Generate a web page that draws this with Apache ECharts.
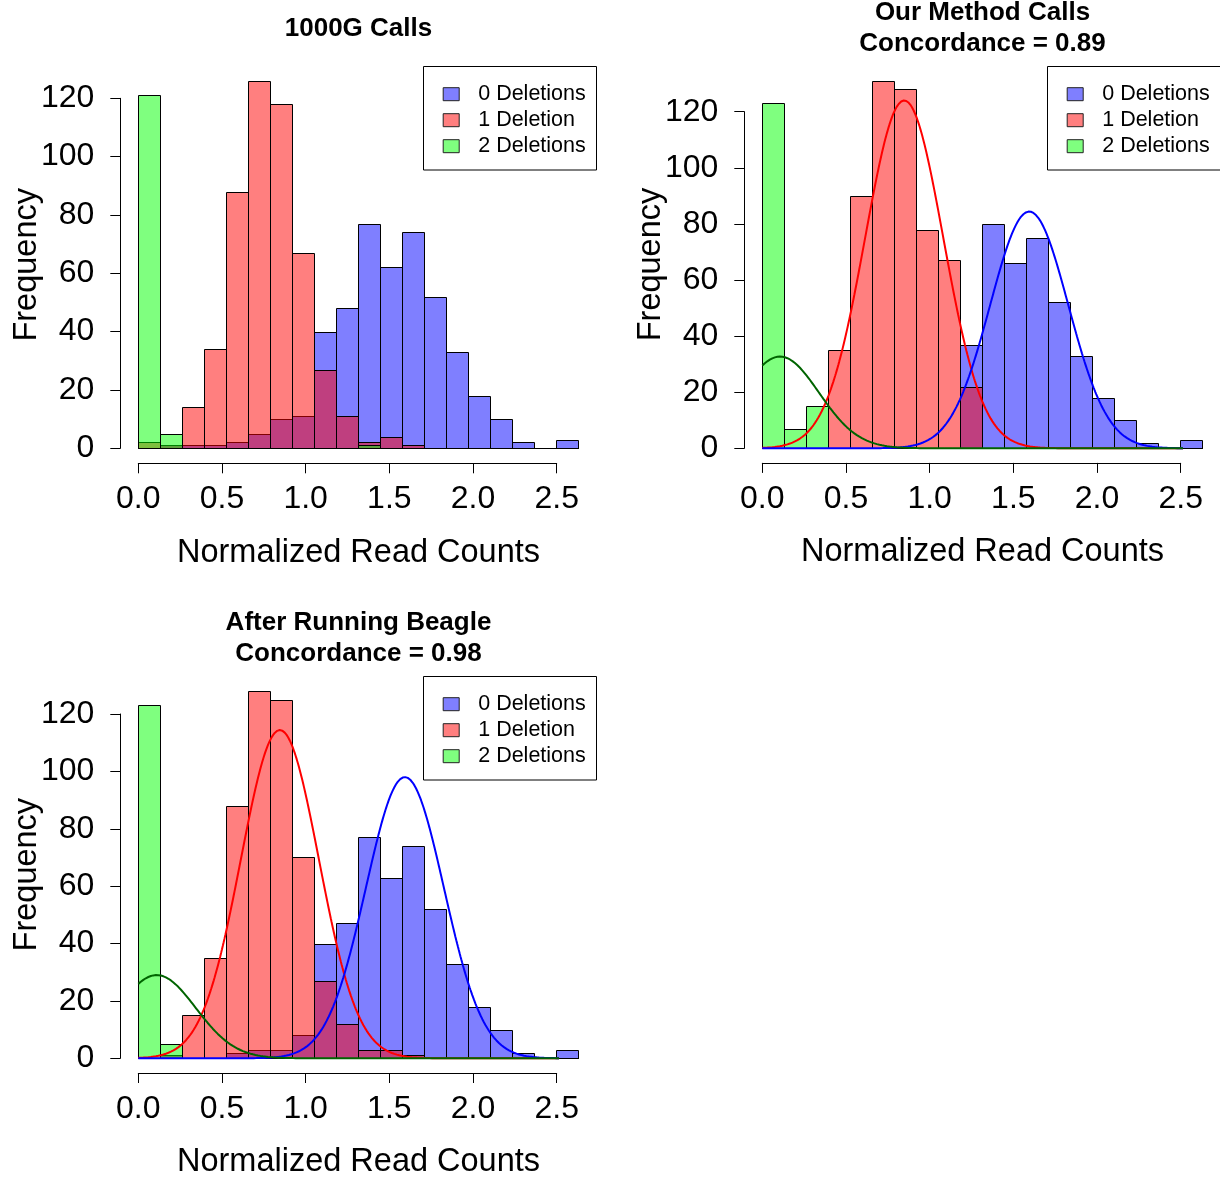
<!DOCTYPE html>
<html>
<head>
<meta charset="utf-8">
<title>Deletion genotype read-count histograms</title>
<script src="https://cdn.jsdelivr.net/npm/echarts@6/dist/echarts.min.js"></script>
<style>
  html, body { margin: 0; padding: 0; background: #ffffff; }
  #chart { width: 1220px; height: 1180px; }
</style>
</head>
<body>
<div id="chart"></div>
<script>
// ---- data -------------------------------------------------------------
// Histogram breaks: 20 equal bins starting at 0
const BIN_WIDTH = 0.1315;
const BIN_COUNT = 20;
const LEGEND_NAMES = ['0 Deletions', '1 Deletion', '2 Deletions'];
const X_AXIS_NAME = 'Normalized Read Counts';
const Y_AXIS_NAME = 'Frequency';

// Panel 1: 1000G Calls (counts per bin)
const g1000Zero = [0, 1, 1, 1, 2, 5, 10, 11, 40, 48, 77, 62, 74, 52, 33, 18, 10, 2, 0, 3];
const g1000One  = [2, 1, 14, 34, 88, 126, 118, 67, 27, 11, 2, 4, 1, 0, 0, 0, 0, 0, 0, 0];
const g1000Two  = [121, 5, 0, 0, 0, 0, 0, 0, 0, 0, 1, 0, 0, 0, 0, 0, 0, 0, 0, 0];

// Panel 2: Our Method Calls
const oursZero = [0, 0, 0, 0, 0, 0, 0, 0, 0, 37, 80, 66, 75, 52, 33, 18, 10, 2, 0, 3];
const oursOne  = [0, 0, 0, 35, 90, 131, 128, 78, 67, 22, 0, 0, 0, 0, 0, 0, 0, 0, 0, 0];
const oursTwo  = [123, 7, 15, 0, 0, 0, 0, 0, 0, 0, 0, 0, 0, 0, 0, 0, 0, 0, 0, 0];

// Panel 3: After Running Beagle
const beagleZero = [0, 1, 0, 0, 2, 3, 3, 8, 40, 47, 77, 63, 74, 52, 33, 18, 10, 2, 0, 3];
const beagleOne  = [0, 1, 15, 35, 88, 128, 125, 70, 27, 12, 3, 3, 1, 0, 0, 0, 0, 0, 0, 0];
const beagleTwo  = [123, 5, 0, 0, 0, 0, 0, 0, 0, 0, 0, 0, 0, 0, 0, 0, 0, 0, 0, 0];

// Fitted normal components (order: 0, 1, 2 deletions), shared sd
const FIT_SD = 0.233;
const oursFitMean   = [1.595, 0.848, 0.106];
const oursFitPeak   = [84.4, 124, 32.7];
const beagleFitMean = [1.593, 0.846, 0.11];
const beagleFitPeak = [98, 114.4, 29];

// ---- styling ------------------------------------------------------------
const FONT = '"Liberation Sans", Arial, Helvetica, sans-serif';
const FILLS = ['rgba(0,0,255,0.5)', 'rgba(255,0,0,0.5)', 'rgba(0,255,0,0.5)'];
const CURVE_COLORS = ['#0000ff', '#ff0000', '#006400'];

// Plot regions (x: 0..2.5, y: 0..120)
const panels = [
  { left: 138.3, top: 98.3,  width: 418.4, height: 350.0, xOff: 15,   nameShift: 17 },
  { left: 762.3, top: 111.7, width: 418.4, height: 336.6, xOff: 14.6, nameShift: 31 },
  { left: 138.3, top: 714.0, width: 418.4, height: 344.3, xOff: 14.7, nameShift: 23 }
];

const panelCounts = [
  [g1000Zero, g1000One, g1000Two],
  [oursZero, oursOne, oursTwo],
  [beagleZero, beagleOne, beagleTwo]
];
const panelFits = [
  null,
  { mean: oursFitMean, peak: oursFitPeak },
  { mean: beagleFitMean, peak: beagleFitPeak }
];

function histSeries(name, counts, color, gi) {
  return {
    type: 'custom',
    name: name,
    xAxisIndex: gi,
    yAxisIndex: gi,
    clip: false,
    silent: true,
    z: 2,
    itemStyle: { color: color, borderColor: '#000', borderWidth: 1 },
    encode: { x: [0, 1], y: 2 },
    data: counts.map((n, i) => [i * BIN_WIDTH, (i + 1) * BIN_WIDTH, n]),
    renderItem: function (params, api) {
      const a = api.coord([api.value(0), api.value(2)]);
      const b = api.coord([api.value(1), 0]);
      const x0 = Math.round(a[0]) + 0.5, x1 = Math.round(b[0]) + 0.5;
      const y0 = Math.round(a[1]) + 0.5, y1 = Math.round(b[1]) + 0.5;
      return {
        type: 'rect',
        shape: { x: x0, y: y0, width: x1 - x0, height: y1 - y0 },
        style: { fill: color, stroke: '#000', lineWidth: 1 }
      };
    }
  };
}

function curveSeries(mean, peak, color, gi) {
  const xMax = BIN_WIDTH * BIN_COUNT;
  const pts = [];
  for (let x = 0; x <= xMax + 1e-9; x += 0.005) {
    const d = (x - mean) / FIT_SD;
    pts.push([x, peak * Math.exp(-0.5 * d * d)]);
  }
  return {
    type: 'line',
    name: 'fit',
    xAxisIndex: gi,
    yAxisIndex: gi,
    data: pts,
    symbol: 'none',
    showSymbol: false,
    clip: false,
    silent: true,
    z: 3,
    lineStyle: { color: color, width: 2 }
  };
}

const series = [];
panelCounts.forEach((sets, gi) => {
  sets.forEach((counts, k) => series.push(histSeries(LEGEND_NAMES[k], counts, FILLS[k], gi)));
  const fit = panelFits[gi];
  if (fit) {
    // red first, then blue, then dark green on top
    [1, 0, 2].forEach(k => series.push(curveSeries(fit.mean[k], fit.peak[k], CURVE_COLORS[k], gi)));
  }
});

const grid = panels.map(p => ({
  left: p.left, top: p.top, width: p.width, height: p.height,
  containLabel: false, outerBoundsMode: 'none'
}));

const xAxis = panels.map((p, i) => ({
  gridIndex: i,
  type: 'value',
  min: 0, max: 2.5, interval: 0.5,
  offset: p.xOff,
  splitLine: { show: false },
  axisLine: { show: true, onZero: false, lineStyle: { color: '#000', width: 1 } },
  axisTick: { show: true, length: 10, lineStyle: { color: '#000', width: 1 } },
  axisLabel: { fontSize: 32, fontFamily: FONT, color: '#000', margin: 20,
               formatter: v => v.toFixed(1) },
  name: X_AXIS_NAME,
  nameLocation: 'middle',
  nameGap: 73,
  nameMoveOverlap: false,
  nameTextStyle: { fontSize: 32.5, fontFamily: FONT, color: '#000', padding: [0, 0, 0, 22] }
}));

const yAxis = panels.map((p, i) => ({
  gridIndex: i,
  type: 'value',
  min: 0, max: 120, interval: 20,
  offset: 18,
  splitLine: { show: false },
  axisLine: { show: true, onZero: false, lineStyle: { color: '#000', width: 1 } },
  axisTick: { show: true, length: 10, lineStyle: { color: '#000', width: 1 } },
  axisLabel: { fontSize: 32, fontFamily: FONT, color: '#000', margin: 26 },
  name: Y_AXIS_NAME,
  nameLocation: 'middle',
  nameGap: 77,
  nameMoveOverlap: false,
  nameTextStyle: { fontSize: 32.5, fontFamily: FONT, color: '#000', padding: [0, 0, 0, p.nameShift] }
}));

// Legend frames and item positions
const legendBoxes = [
  { x: 423.5, y: 66.5, w: 173, h: 103.5, itemLeft: 442.7, itemTop: 81.2 },
  { x: 1047.5, y: 66.5, w: 180, h: 103.5, itemLeft: 1066.7, itemTop: 81.2 },
  { x: 423.5, y: 676.5, w: 173, h: 103.5, itemLeft: 442.7, itemTop: 691.2 }
];

const legend = legendBoxes.map(b => ({
  data: LEGEND_NAMES,
  orient: 'vertical',
  left: b.itemLeft, top: b.itemTop,
  padding: 0,
  itemGap: 0,
  itemWidth: 16, itemHeight: 13,
  icon: 'rect',
  selectedMode: false,
  itemStyle: { borderColor: '#222', borderWidth: 1 },
  textStyle: { fontSize: 21.5, fontFamily: FONT, color: '#000', lineHeight: 26, padding: [0, 0, 0, 14] }
}));

const titleFont = 'bold 26px ' + FONT;
const titles = [
  { text: '1000G Calls', x: 358.5, y: 29 },
  { text: 'Our Method Calls', x: 982.5, y: 13 },
  { text: 'Concordance = 0.89', x: 982.5, y: 43.5 },
  { text: 'After Running Beagle', x: 358.5, y: 623 },
  { text: 'Concordance = 0.98', x: 358.5, y: 653.5 }
];

const graphic = [];
legendBoxes.forEach(b => graphic.push({
  type: 'rect', silent: true, z: 10,
  shape: { x: b.x, y: b.y, width: b.w, height: b.h },
  style: { fill: 'rgba(255,255,255,0)', stroke: '#000', lineWidth: 1 }
}));
titles.forEach(t => graphic.push({
  type: 'text', silent: true, x: t.x, y: t.y,
  style: { text: t.text, font: titleFont, fill: '#000', textAlign: 'center', textVerticalAlign: 'middle' }
}));

const chart = echarts.init(document.getElementById('chart'), null, { renderer: 'canvas' });
chart.setOption({
  animation: false,
  backgroundColor: '#ffffff',
  textStyle: { fontFamily: FONT },
  grid: grid,
  xAxis: xAxis,
  yAxis: yAxis,
  legend: legend,
  tooltip: { show: false },
  graphic: graphic,
  series: series
});
</script>
</body>
</html>
